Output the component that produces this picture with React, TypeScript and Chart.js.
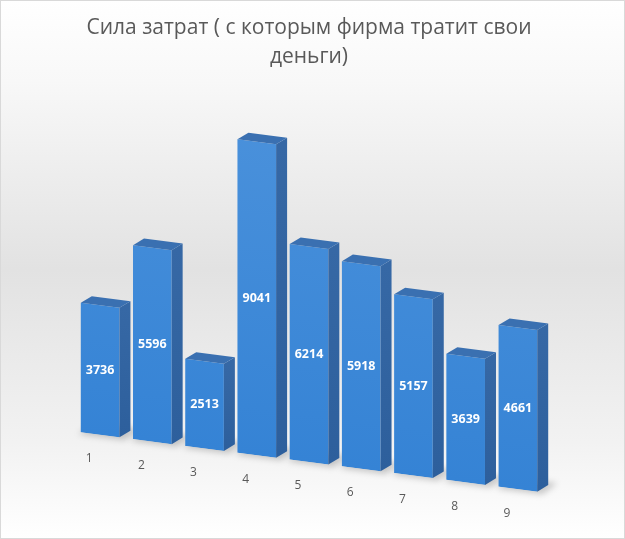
import React, { useEffect, useRef } from "react";
import { Chart, registerables, Plugin } from "chart.js";

Chart.register(...registerables);

const categories = ["1", "2", "3", "4", "5", "6", "7", "8", "9"];
const values = [3736, 5596, 2513, 9041, 6214, 5918, 5157, 3639, 4661];
const titleLines = ["Сила затрат ( с которым фирма тратит свои", "деньги)"];

// fake perspective: the floor slopes down to the right, bars get a side and a top face
const SKEW = 0.13;
const DX = 11;
const DY = 8;

const pseudo3d: Plugin<"bar"> = {
  id: "pseudo3d",
  beforeDraw(chart) {
    const { ctx, width, height } = chart;
    const g = ctx.createLinearGradient(0, 0, 0, height);
    g.addColorStop(0, "#ffffff");
    g.addColorStop(0.15, "#f8f8f8");
    g.addColorStop(0.5, "#e2e2e2");
    g.addColorStop(0.82, "#f2f2f2");
    g.addColorStop(1, "#ffffff");
    ctx.save();
    ctx.fillStyle = g;
    ctx.fillRect(0, 0, width, height);
    ctx.strokeStyle = "#d9d9d9";
    ctx.strokeRect(0.5, 0.5, width - 1, height - 1);
    ctx.restore();
  },
  beforeDatasetsDraw(chart) {
    const { ctx, chartArea } = chart;
    const pivot = (chartArea.left + chartArea.right) / 2;
    ctx.save();
    ctx.translate(0, -SKEW * pivot);
    ctx.transform(1, SKEW, 0, 1, 0, 0);
    // floor shadows
    ctx.save();
    ctx.filter = "blur(3px)";
    ctx.fillStyle = "rgba(0, 0, 0, 0.2)";
    chart.getDatasetMeta(0).data.forEach((bar) => {
      const { x, base, width } = bar.getProps(["x", "base", "width"], true);
      const l = x - width / 2;
      const r = x + width / 2;
      ctx.beginPath();
      ctx.moveTo(l - 2, base + 2);
      ctx.lineTo(r + 5, base + 2);
      ctx.lineTo(r + DX + 9, base - DY - 3);
      ctx.lineTo(l + DX, base - DY - 3);
      ctx.closePath();
      ctx.fill();
    });
    ctx.restore();
  },
  afterDatasetsDraw(chart) {
    const { ctx, chartArea } = chart;
    const pivot = (chartArea.left + chartArea.right) / 2;
    const bars = chart.getDatasetMeta(0).data;
    bars.forEach((bar) => {
      const { x, y, base, width } = bar.getProps(["x", "y", "base", "width"], true);
      const l = x - width / 2;
      const r = x + width / 2;
      const side = ctx.createLinearGradient(0, y, 0, base);
      side.addColorStop(0, "#3668a5");
      side.addColorStop(1, "#2d5f9c");
      ctx.fillStyle = side;
      ctx.beginPath();
      ctx.moveTo(r, y);
      ctx.lineTo(r + DX, y - DY);
      ctx.lineTo(r + DX, base - DY);
      ctx.lineTo(r, base);
      ctx.closePath();
      ctx.fill();
      ctx.fillStyle = "#3a70b1";
      ctx.beginPath();
      ctx.moveTo(l, y);
      ctx.lineTo(l + DX, y - DY);
      ctx.lineTo(r + DX, y - DY);
      ctx.lineTo(r, y);
      ctx.closePath();
      ctx.fill();
    });
    ctx.restore();

    const shift = (px: number) => SKEW * (px - pivot);
    ctx.save();
    ctx.textAlign = "center";
    ctx.textBaseline = "middle";
    bars.forEach((bar, i) => {
      const { x, y, base } = bar.getProps(["x", "y", "base"], true);
      ctx.font = "bold 12.5px 'Open Sans'";
      ctx.fillStyle = "#ffffff";
      ctx.fillText(String(values[i]), x, (y + base) / 2 + shift(x));
      ctx.font = "12px 'Open Sans'";
      ctx.fillStyle = "#595959";
      ctx.fillText(categories[i], x - 11, base + shift(x) + 24);
    });
    ctx.restore();
  },
};

const App: React.FC = () => {
  const chartRef = useRef<Chart<"bar">>();
  const canvasRef = useRef<HTMLCanvasElement>(null);

  useEffect(() => {
    const canvas = canvasRef.current;
    if (!canvas) {
      return;
    }
    const ctx = canvas.getContext("2d");
    if (!ctx) {
      return;
    }

    chartRef.current = new Chart(ctx, {
      type: "bar",
      data: {
        labels: categories,
        datasets: [
          {
            data: values,
            backgroundColor: (c) => {
              const area = c.chart.chartArea;
              if (!area) {
                return "#3f88d6";
              }
              const g = c.chart.ctx.createLinearGradient(0, area.top, 0, area.bottom);
              g.addColorStop(0, "#4d93dc");
              g.addColorStop(1, "#3583d5");
              return g;
            },
            borderWidth: 0,
            categoryPercentage: 1,
            barPercentage: 0.74,
          },
        ],
      },
      options: {
        responsive: false,
        animation: false,
        layout: {
          padding: { left: 74, right: 81, top: 0, bottom: 77 },
        },
        scales: {
          x: { display: false },
          y: { display: false, min: 0, max: 11000 },
        },
        plugins: {
          legend: { display: false },
          tooltip: { enabled: false },
          title: {
            display: true,
            text: titleLines,
            color: "#595959",
            padding: { top: 14, bottom: 10 },
            font: { size: 21, weight: "normal", family: "'Open Sans'", lineHeight: 1.35 },
          },
        },
      },
      plugins: [pseudo3d],
    });

    return () => {
      if (chartRef.current) {
        chartRef.current.destroy();
      }
    };
  }, []);

  return (
    <div style={{ position: "absolute", left: 0, top: 0, width: 625, height: 539 }}>
      <canvas ref={canvasRef} width={625} height={539} />
    </div>
  );
};

export default App;
